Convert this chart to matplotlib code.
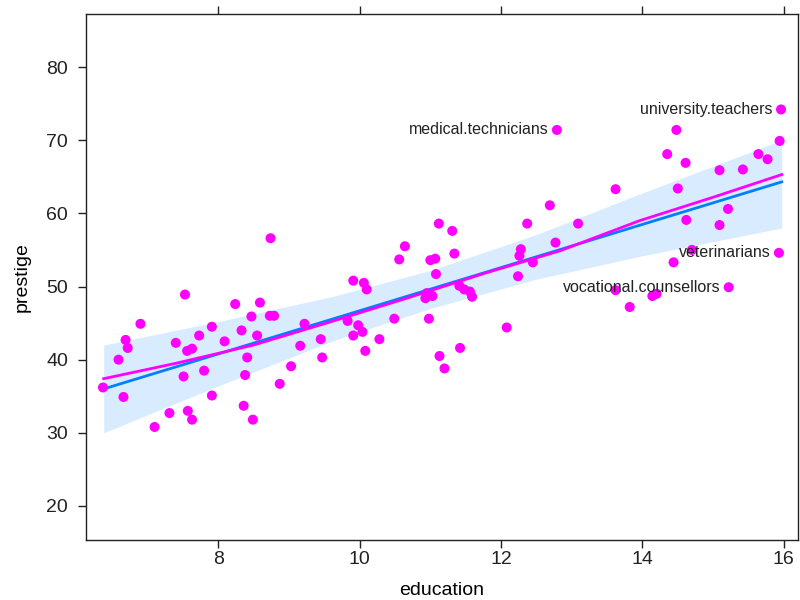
import numpy as np
import matplotlib.pyplot as plt

plt.rcParams['font.family'] = ['Liberation Sans', 'DejaVu Sans']

#---Partial residuals
education = [6.37, 6.69, 6.72, 6.59, 6.66, 6.90, 7.10, 7.31, 7.40, 7.51,
             7.56, 7.63, 7.57, 7.63, 7.73, 7.80, 7.91, 7.91, 8.09, 8.24,
             8.59, 8.33, 8.36, 8.38, 8.41, 8.47, 8.49, 8.55, 8.73, 8.79,
             8.87, 9.03, 9.16, 9.22, 9.45, 9.47, 9.83, 9.91, 9.98, 7.53,
             8.74, 9.91, 10.06, 10.10, 10.04, 10.08, 10.28, 10.49, 10.56, 10.64,
             10.98, 11.00, 11.07, 11.08, 11.12, 11.13, 11.20, 11.31, 11.34, 11.42,
             10.93, 11.03, 10.95, 11.41, 11.48, 11.56, 11.59, 12.08, 12.24, 12.28,
             12.26, 12.37, 12.45, 12.69, 12.77, 13.09, 13.62, 13.82, 15.96, 14.48,
             12.79, 14.35, 14.61, 15.94, 15.64, 15.77, 15.09, 15.42, 13.62, 14.50,
             15.21, 14.62, 15.09, 15.93, 14.70, 14.44, 15.22, 14.14, 14.20]
prestige = [36.2, 42.7, 41.6, 40.0, 34.9, 44.9, 30.8, 32.7, 42.3, 37.7,
            41.2, 41.5, 33.0, 31.8, 43.3, 38.5, 44.5, 35.1, 42.5, 47.6,
            47.8, 44.0, 33.7, 37.9, 40.3, 45.9, 31.8, 43.3, 46.0, 46.0,
            36.7, 39.1, 41.9, 44.9, 42.8, 40.3, 45.3, 43.3, 44.7, 48.9,
            56.6, 50.8, 50.5, 49.6, 43.8, 41.2, 42.8, 45.6, 53.7, 55.5,
            45.6, 53.6, 53.8, 51.7, 58.6, 40.5, 38.8, 57.6, 54.5, 41.6,
            48.4, 48.7, 49.1, 50.1, 49.6, 49.3, 48.6, 44.4, 51.4, 55.1,
            54.2, 58.6, 53.3, 61.1, 56.0, 58.6, 49.5, 47.2, 74.2, 71.4,
            71.4, 68.1, 66.9, 69.9, 68.1, 67.4, 65.9, 66.0, 63.3, 63.4,
            60.6, 59.1, 58.4, 54.6, 55.0, 53.3, 49.9, 48.7, 49.0]

#---Labelled occupations
label_names = ['medical.technicians', 'university.teachers', 'veterinarians', 'vocational.counsellors']
label_ed = [12.79, 15.96, 15.93, 15.22]
label_pr = [71.4, 74.2, 54.6, 49.9]

#---Fitted effect, confidence band and smooth of residuals
fit_ed = [6.38, 15.97]
fit_pr = [36.0, 64.3]
band_ed = [6.38, 8.0, 9.6, 11.0, 12.5, 14.0, 15.97]
band_lo = [30.0, 36.4, 42.5, 47.0, 51.0, 54.2, 58.0]
band_hi = [42.0, 45.2, 48.6, 52.2, 57.1, 62.8, 70.0]
smooth_ed = [6.38, 7.4, 8.5, 9.6, 10.7, 11.8, 12.84, 13.96, 14.48, 15.0, 15.97]
smooth_pr = [37.4, 39.5, 42.0, 45.2, 48.5, 51.9, 54.9, 59.0, 60.6, 62.2, 65.3]


fig = plt.figure(figsize=(8, 6), dpi=100)
ax = fig.add_axes([0.1075, 0.1, 0.89, 0.8767])

ax.fill_between(band_ed, band_lo, band_hi, color='#d9ecff', lw=0, zorder=1)
ax.plot(fit_ed, fit_pr, '-', color='#0080ff', lw=2, zorder=2)
ax.plot(smooth_ed, smooth_pr, '-', color='#ff00ff', lw=2, zorder=2)
ax.scatter(education, prestige, s=52, color='#ff00ff', edgecolors='none', zorder=3)

for name, x, y in zip(label_names, label_ed, label_pr):
    ax.annotate(name, (x, y), xytext=(-6, 0), textcoords='offset points',
                ha='right', va='center', fontsize=11.5, color='#222222', zorder=4)

ax.set_xlim(6.13, 16.2)
ax.set_ylim(15.35, 87.25)
ax.set_xticks([8, 10, 12, 14, 16])
ax.set_yticks([20, 30, 40, 50, 60, 70, 80])
ax.tick_params(direction='out', length=6, width=1, labelsize=14, top=True, right=False,
               labeltop=False, colors='#222222')
ax.tick_params(axis='y', pad=7)
ax.tick_params(axis='x', pad=2)
for s in ax.spines.values():
    s.set_color('#222222')
    s.set_linewidth(1)

ax.set_xlabel('education', fontsize=14, labelpad=10)
ax.set_ylabel('prestige', fontsize=14, labelpad=11)

fig.savefig('out.png')
